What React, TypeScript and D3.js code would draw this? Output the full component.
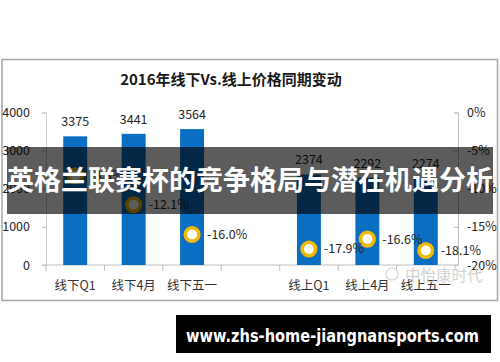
import * as d3 from 'd3';
import {useEffect, useRef} from 'react';

const width = 500;
const height = 362;

const categories = ['线下Q1', '线下4月', '线下五一', '', '线上Q1', '线上4月', '线上五一'];
const prices = [3375, 3441, 3564, null, 2374, 2292, 2274];
const changes = [-8.3, -12.1, -16.0, null, -17.9, -16.6, -18.1];
const leftTicks = [0, 1000, 2000, 3000, 4000];
const rightTicks = [0, -5, -10, -15, -20];

const title = '2016年线下Vs.线上价格同期变动';
const banner = '英格兰联赛杯的竞争格局与潜在机遇分析';
const site = 'www.zhs-home-jiangnansports.com';
const mark = '中怡康时代';

const font = '"Noto Sans CJK SC", "Noto Sans", sans-serif';

function App() {
  const ref = useRef<HTMLDivElement>(null);

  useEffect(() => {
    const svg = d3
      .select(ref.current)
      .append('svg')
      .attr('width', width)
      .attr('height', height)
      .style('position', 'absolute')
      .style('left', 0)
      .style('top', 0)
      .style('background', '#fff')
      .style('font-family', font);

    const x = d3.scaleBand().domain(categories).range([46, 455]);
    const yL = d3.scaleLinear().domain([0, 4000]).range([265, 112.5]);
    const yR = d3.scaleLinear().domain([-20, 0]).range([265, 112.5]);
    const barW = x.bandwidth() * 0.41;
    const cx = (c: string) => (x(c) as number) + x.bandwidth() / 2;

    // frame
    svg
      .append('rect')
      .attr('x', 2)
      .attr('y', 59.5)
      .attr('width', 495.5)
      .attr('height', 241)
      .attr('fill', '#fff')
      .attr('stroke', '#a6a6a6')
      .attr('stroke-width', 1.5);

    svg
      .append('text')
      .attr('x', 231)
      .attr('y', 85)
      .attr('text-anchor', 'middle')
      .attr('font-size', 15)
      .attr('font-weight', 'bold')
      .attr('fill', '#1a1a1a')
      .text(title);

    // left axis
    const gl = svg.append('g').attr('transform', 'translate(46,0)');
    gl.call(
      d3
        .axisLeft(yL)
        .tickValues(leftTicks)
        .tickSize(4)
        .tickPadding(12)
        .tickFormat(d3.format('d'))
    );
    gl.select('.domain').attr('stroke', '#d0d0d0');
    gl.selectAll('.tick line').attr('stroke', '#bfbfbf');
    gl.selectAll('.tick text')
      .attr('font-size', 12.5)
      .attr('font-family', font)
      .attr('fill', '#262626');

    // right axis
    const gr = svg.append('g').attr('transform', 'translate(458,0)');
    gr.call(
      d3
        .axisRight(yR)
        .tickValues(rightTicks)
        .tickSize(-4)
        .tickPadding(9)
        .tickFormat(d => `${d}%`)
    );
    gr.select('.domain').attr('stroke', '#bfbfbf');
    gr.selectAll('.tick line').attr('stroke', '#bfbfbf');
    gr.selectAll('.tick text')
      .attr('font-size', 12.5)
      .attr('font-family', font)
      .attr('fill', '#262626');

    // x axis
    const gx = svg.append('g');
    gx.append('line')
      .attr('x1', 42)
      .attr('x2', 458)
      .attr('y1', 265)
      .attr('y2', 265)
      .attr('stroke', '#bfbfbf');
    gx.selectAll('line.tk')
      .data(categories.concat(['end']).map((_, i) => i))
      .join('line')
      .attr('class', 'tk')
      .attr('x1', i => 46 + i * x.step())
      .attr('x2', i => 46 + i * x.step())
      .attr('y1', 265)
      .attr('y2', 271)
      .attr('stroke', '#bfbfbf');
    gx.selectAll('text')
      .data(categories)
      .join('text')
      .attr('x', d => cx(d))
      .attr('y', 290)
      .attr('text-anchor', 'middle')
      .attr('font-size', 12.5)
      .attr('fill', '#333')
      .text(d => d);

    // watermark
    svg
      .append('text')
      .attr('x', 405)
      .attr('y', 281)
      .attr('font-size', 15.5)
      .attr('fill', '#d2d2d2')
      .text(mark);
    svg
      .append('circle')
      .attr('cx', 392)
      .attr('cy', 274)
      .attr('r', 6)
      .attr('fill', 'none')
      .attr('stroke', '#d8d8d8')
      .attr('stroke-width', 1.2);

    const rows = categories
      .map((c, i) => ({c, v: prices[i], p: changes[i]}))
      .filter(d => d.v !== null);

    // bars
    svg
      .append('g')
      .selectAll('rect')
      .data(rows)
      .join('rect')
      .attr('x', d => cx(d.c) - barW / 2)
      .attr('y', d => yL(d.v as number))
      .attr('width', barW)
      .attr('height', d => 265 - yL(d.v as number))
      .attr('fill', '#0A6FC2');

    svg
      .append('g')
      .selectAll('text')
      .data(rows)
      .join('text')
      .attr('x', d => cx(d.c))
      .attr('y', d => yL(d.v as number) - 10)
      .attr('text-anchor', 'middle')
      .attr('font-size', 12.5)
      .attr('fill', '#262626')
      .text(d => d.v as number);

    // change markers
    svg
      .append('g')
      .selectAll('circle')
      .data(rows)
      .join('circle')
      .attr('cx', d => cx(d.c))
      .attr('cy', d => yR(d.p as number))
      .attr('r', 6.8)
      .attr('fill', '#fff')
      .attr('stroke', '#F3B800')
      .attr('stroke-width', 3.6);

    svg
      .append('g')
      .selectAll('text')
      .data(rows)
      .join('text')
      .attr('x', d => cx(d.c) + 15)
      .attr('y', d => yR(d.p as number) + 4.5)
      .attr('font-size', 12.5)
      .attr('fill', '#262626')
      .text(d => `${(d.p as number).toFixed(1)}%`);

    // banner overlay
    svg
      .append('rect')
      .attr('x', 7)
      .attr('y', 147)
      .attr('width', 486)
      .attr('height', 67)
      .attr('fill', '#000')
      .attr('opacity', 0.64);
    svg
      .append('text')
      .attr('x', 250)
      .attr('y', 190)
      .attr('text-anchor', 'middle')
      .attr('font-size', 27)
      .attr('font-weight', 'bold')
      .attr('fill', '#fff')
      .attr('textLength', 486)
      .attr('lengthAdjust', 'spacingAndGlyphs')
      .text(banner);

    // site box
    svg
      .append('rect')
      .attr('x', 176)
      .attr('y', 315)
      .attr('width', 315)
      .attr('height', 38)
      .attr('fill', '#000');
    svg
      .append('text')
      .attr('x', 332.5)
      .attr('y', 342)
      .attr('text-anchor', 'middle')
      .attr('font-size', 17)
      .attr('font-weight', 'bold')
      .attr('font-family', '"DejaVu Sans", sans-serif')
      .attr('fill', '#fff')
      .attr('textLength', 293)
      .attr('lengthAdjust', 'spacingAndGlyphs')
      .text(site);

    return () => {
      svg.remove();
    };
  }, []);

  return <div ref={ref}></div>;
}

export default App;
